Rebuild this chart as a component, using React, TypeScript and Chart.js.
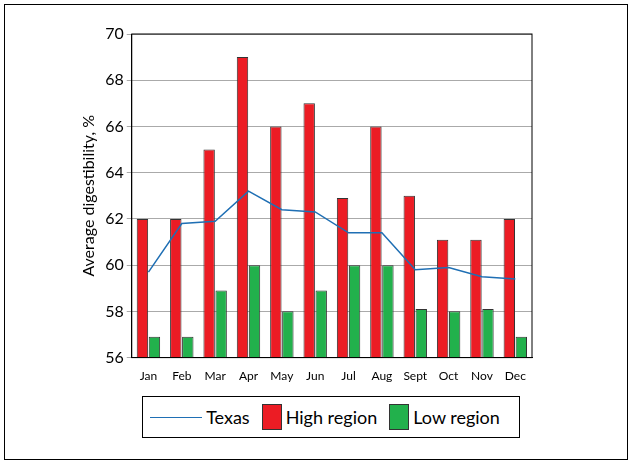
import { useEffect, useRef } from 'react';
import { Chart, registerables } from 'chart.js';

Chart.register(...registerables);

const months = ['Jan', 'Feb', 'Mar', 'Apr', 'May', 'Jun', 'Jul', 'Aug', 'Sept', 'Oct', 'Nov', 'Dec'];
const texas = [59.7, 61.8, 61.9, 63.2, 62.4, 62.3, 61.4, 61.4, 59.8, 59.9, 59.5, 59.4];
const highRegion = [62, 62, 65, 69, 66, 67, 62.9, 66, 63, 61.1, 61.1, 62];
const lowRegion = [56.9, 56.9, 58.9, 60, 58, 58.9, 60, 60, 58.1, 58, 58.1, 56.9];

const FONT = 'Lato, "Open Sans", sans-serif';

const frame = {
  id: 'frame',
  afterDraw(chart: Chart) {
    const { ctx, chartArea: a } = chart;
    ctx.save();
    ctx.strokeStyle = '#000';
    ctx.lineWidth = 1;
    ctx.strokeRect(a.left, a.top, a.right - a.left, a.bottom - a.top);
    ctx.restore();
  },
};

export default function App() {
  const canvasRef = useRef<HTMLCanvasElement>(null);

  useEffect(() => {
    if (!canvasRef.current) return;
    const chart = new Chart(canvasRef.current, {
      type: 'bar',
      data: {
        labels: months,
        datasets: [
          {
            type: 'line',
            label: 'Texas',
            data: texas,
            borderColor: '#1f6fb4',
            borderWidth: 1.5,
            pointRadius: 0,
            order: 0,
          },
          {
            label: 'High region',
            data: highRegion,
            backgroundColor: '#ec1c24',
            borderColor: '#333',
            borderWidth: 1,
            borderSkipped: false,
            order: 1,
          },
          {
            label: 'Low region',
            data: lowRegion,
            backgroundColor: '#22b14c',
            borderColor: '#333',
            borderWidth: 1,
            borderSkipped: false,
            order: 1,
          },
        ],
      },
      options: {
        animation: false,
        responsive: true,
        maintainAspectRatio: false,
        layout: { padding: { top: 29, right: 95, bottom: 3, left: 70 } },
        datasets: { bar: { categoryPercentage: 0.72, barPercentage: 0.95 } },
        plugins: { legend: { display: false }, tooltip: { enabled: false } },
        scales: {
          x: {
            grid: { display: false },
            border: { color: '#000' },
            ticks: { color: '#000', font: { family: FONT, size: 12 }, maxRotation: 0, autoSkip: false },
          },
          y: {
            min: 56,
            max: 70,
            border: { color: '#000' },
            grid: { color: '#aaa', drawTicks: true, tickLength: 5 },
            ticks: { stepSize: 2, color: '#000', font: { family: FONT, size: 16 } },
            title: { display: true, text: 'Average digestibility, %', color: '#000', font: { family: FONT, size: 16 } },
          },
        },
      },
      plugins: [frame],
    });
    return () => chart.destroy();
  }, []);

  const item = (swatch: JSX.Element, text: string) => (
    <span style={{ display: 'inline-flex', alignItems: 'center', marginRight: 12 }}>
      {swatch}
      <span style={{ marginLeft: 4 }}>{text}</span>
    </span>
  );

  return (
    <div style={{ position: 'absolute', left: 4, top: 4, width: 624, height: 456, border: '1px solid #000', boxSizing: 'border-box', fontFamily: FONT }}>
      <div style={{ position: 'absolute', left: 0, top: 0, width: 622, height: 384 }}>
        <canvas ref={canvasRef} />
      </div>
      <div style={{ position: 'absolute', left: 137, top: 391, width: 378, height: 42, border: '1px solid #000', boxSizing: 'border-box', display: 'flex', alignItems: 'center', justifyContent: 'center', fontSize: 18 }}>
        {item(<span style={{ width: 52, height: 0, borderTop: '1.5px solid #1f6fb4' }} />, 'Texas')}
        {item(<span style={{ width: 18, height: 24, background: '#ec1c24', border: '1px solid #333' }} />, 'High region')}
        {item(<span style={{ width: 18, height: 24, background: '#22b14c', border: '1px solid #333' }} />, 'Low region')}
      </div>
    </div>
  );
}
